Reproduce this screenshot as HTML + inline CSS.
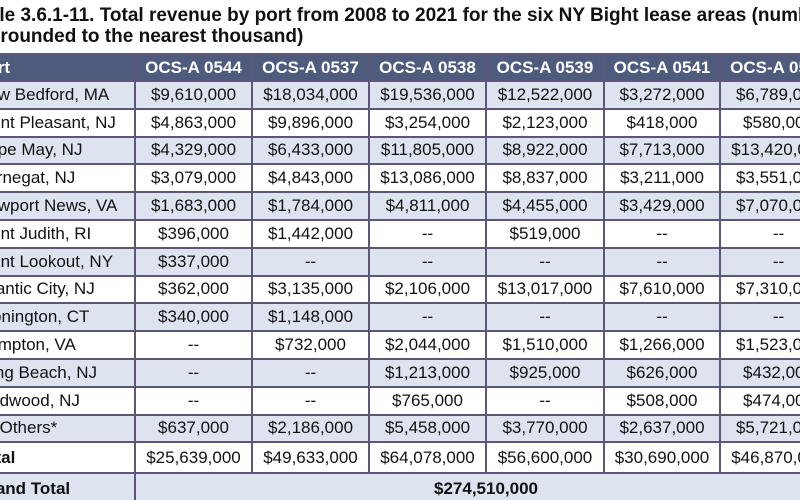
<!DOCTYPE html>
<html><head><meta charset="utf-8"><style>
html,body{margin:0;padding:0;background:#fff;width:800px;height:500px;overflow:hidden;position:relative;font-family:"Liberation Sans",sans-serif;}
.t{position:absolute;font-weight:bold;font-size:19px;color:#111;white-space:nowrap;}
table{position:absolute;left:-31px;top:53px;border-collapse:collapse;table-layout:fixed;width:867px;}
td,th{border:2px solid #5e5678;font-size:17px;padding:0;white-space:nowrap;overflow:hidden;text-align:center;color:#111;}
th{background:#4e5b7d;color:#fff;font-weight:bold;height:25px;}
td{height:25.8px;}
tr.s td{background:#dde4f0;}
td.p,th.p{text-align:left;padding-left:5px;}
tr.tot td{height:29px;}
tr.g td{height:30px;}
</style></head><body>
<div class="t" style="left:-33px;top:5px;">Table 3.6.1-11. Total revenue by port from 2008 to 2021 for the six NY Bight lease areas (numbers</div>
<div class="t" style="left:-6px;top:26px;">(rounded to the nearest thousand)</div>
<table>
<colgroup><col style="width:165px"><col style="width:117px"><col style="width:117px"><col style="width:117px"><col style="width:118px"><col style="width:116px"><col style="width:117px"></colgroup>
<tr><th class="p">Port</th><th>OCS-A 0544</th><th>OCS-A 0537</th><th>OCS-A 0538</th><th>OCS-A 0539</th><th>OCS-A 0541</th><th>OCS-A 0542</th></tr>
<tr class="s"><td class="p">New Bedford, MA</td><td>$9,610,000</td><td>$18,034,000</td><td>$19,536,000</td><td>$12,522,000</td><td>$3,272,000</td><td>$6,789,000</td></tr>
<tr><td class="p">Point Pleasant, NJ</td><td>$4,863,000</td><td>$9,896,000</td><td>$3,254,000</td><td>$2,123,000</td><td>$418,000</td><td>$580,000</td></tr>
<tr class="s"><td class="p">Cape May, NJ</td><td>$4,329,000</td><td>$6,433,000</td><td>$11,805,000</td><td>$8,922,000</td><td>$7,713,000</td><td>$13,420,000</td></tr>
<tr><td class="p">Barnegat, NJ</td><td>$3,079,000</td><td>$4,843,000</td><td>$13,086,000</td><td>$8,837,000</td><td>$3,211,000</td><td>$3,551,000</td></tr>
<tr class="s"><td class="p">Newport News, VA</td><td>$1,683,000</td><td>$1,784,000</td><td>$4,811,000</td><td>$4,455,000</td><td>$3,429,000</td><td>$7,070,000</td></tr>
<tr><td class="p">Point Judith, RI</td><td>$396,000</td><td>$1,442,000</td><td>--</td><td>$519,000</td><td>--</td><td>--</td></tr>
<tr class="s"><td class="p">Point Lookout, NY</td><td>$337,000</td><td>--</td><td>--</td><td>--</td><td>--</td><td>--</td></tr>
<tr><td class="p">Atlantic City, NJ</td><td>$362,000</td><td>$3,135,000</td><td>$2,106,000</td><td>$13,017,000</td><td>$7,610,000</td><td>$7,310,000</td></tr>
<tr class="s"><td class="p">Stonington, CT</td><td>$340,000</td><td>$1,148,000</td><td>--</td><td>--</td><td>--</td><td>--</td></tr>
<tr><td class="p">Hampton, VA</td><td>--</td><td>$732,000</td><td>$2,044,000</td><td>$1,510,000</td><td>$1,266,000</td><td>$1,523,000</td></tr>
<tr class="s"><td class="p">Long Beach, NJ</td><td>--</td><td>--</td><td>$1,213,000</td><td>$925,000</td><td>$626,000</td><td>$432,000</td></tr>
<tr><td class="p">Wildwood, NJ</td><td>--</td><td>--</td><td>$765,000</td><td>--</td><td>$508,000</td><td>$474,000</td></tr>
<tr class="s"><td class="p">All Others*</td><td>$637,000</td><td>$2,186,000</td><td>$5,458,000</td><td>$3,770,000</td><td>$2,637,000</td><td>$5,721,000</td></tr>
<tr class="tot"><td class="p" style="font-weight:bold">Total</td><td>$25,639,000</td><td>$49,633,000</td><td>$64,078,000</td><td>$56,600,000</td><td>$30,690,000</td><td>$46,870,000</td></tr>
<tr class="g s"><td class="p" style="font-weight:bold">Grand Total</td><td colspan="6" style="font-weight:bold;">$274,510,000</td></tr>
</table>
</body></html>
